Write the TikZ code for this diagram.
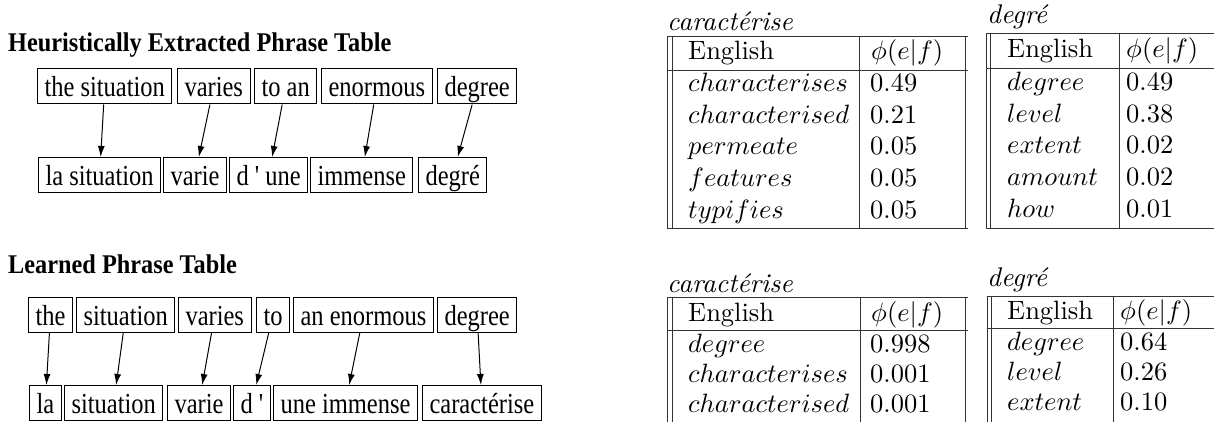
\documentclass[tikz,border=0pt]{standalone}
\usepackage[no-math]{fontspec}
\usepackage{graphicx}
\newfontfamily\tnr{Liberation Serif}
\usetikzlibrary{arrows.meta}
\newcommand\lfnt{\tnr\fontsize{29}{34}\selectfont}
\newcommand\hfnt{\tnr\bfseries\fontsize{27}{32}\selectfont}
\newcommand\boxtxt[1]{\scalebox{0.845}[1]{#1}}
\newcommand\ttltxt[1]{\scalebox{0.9}[1]{#1}}
\newcommand\mi[1]{\scalebox{2.65}{\fontsize{10}{12}\selectfont$#1$}}
\newcommand\mt[1]{\scalebox{2.65}{\fontsize{10}{12}\selectfont #1}}
\newcommand\itx[1]{\scalebox{2.7}{\fontsize{10}{12}\selectfont\itshape #1}}
\begin{document}
\begin{tikzpicture}[x=1pt,y=-1pt,
  wbox/.style={draw, line width=1pt, anchor=west, inner xsep=7pt, inner ysep=2pt,
    text height=26pt, text depth=5pt, font=\lfnt},
  ttl/.style={anchor=base west, inner sep=0pt, font=\hfnt},
  link/.style={-{Latex[length=11pt,width=7pt]}, line width=1pt},
  tline/.style={line width=0.9pt, black!80},
  tcell/.style={anchor=base west, inner sep=0pt}]
\useasboundingbox (0,0) rectangle (1214,422);

% ---------- Heuristically extracted ----------
\node[ttl] (h1) at (8,52) {\ttltxt{Heuristically Extracted Phrase Table}};
\node[wbox] (a1) at (37,86.5)  {\boxtxt{the situation}};
\node[wbox] (a2) at (177,86.5) {\boxtxt{varies}};
\node[wbox] (a3) at (254,86.5) {\boxtxt{to an}};
\node[wbox] (a4) at (321,86.5) {\boxtxt{enormous}};
\node[wbox] (a5) at (437,86.5) {\boxtxt{degree}};
\node[wbox] (b1) at (38,175)  {\boxtxt{la situation}};
\node[wbox] (b2) at (163,175) {\boxtxt{varie}};
\node[wbox] (b3) at (229,175) {\boxtxt{d ' une}};
\node[wbox] (b4) at (310,175) {\boxtxt{immense}};
\node[wbox] (b5) at (418,175) {\boxtxt{degré}};
\foreach \i in {1,...,5} {\draw[link] (a\i) -- (b\i);}

% ---------- Learned ----------
\node[ttl] (h2) at (8,273) {\ttltxt{Learned Phrase Table}};
\node[wbox] (c1) at (28,315)  {\boxtxt{the}};
\node[wbox] (c2) at (76,315)  {\boxtxt{situation}};
\node[wbox] (c3) at (178,315) {\boxtxt{varies}};
\node[wbox] (c4) at (256,315) {\boxtxt{to}};
\node[wbox] (c5) at (293,315) {\boxtxt{an enormous}};
\node[wbox] (c6) at (437,315) {\boxtxt{degree}};
\node[wbox] (d1) at (29,403)  {\boxtxt{la}};
\node[wbox] (d2) at (64,403)  {\boxtxt{situation}};
\node[wbox] (d3) at (167,403) {\boxtxt{varie}};
\node[wbox] (d4) at (233,403) {\boxtxt{d '}};
\node[wbox] (d5) at (273,403) {\boxtxt{une immense}};
\node[wbox] (d6) at (422,403) {\boxtxt{caractérise}};
\foreach \i in {1,...,6} {\draw[link] (c\i) -- (d\i);}

% ---------- Table: caracterise (heuristic) ----------
\draw[tline] (667,36) -- (968,36) (667,70) -- (968,70) (667,228) -- (968,228);
\draw[tline] (667,36) -- (667,228) (672,36) -- (672,228) (859,36) -- (859,228) (965,36) -- (965,228);
\node[tcell] (t1t) at (667,31) {\itx{caractérise}};
\node[tcell] (t1h1) at (688,60) {\mt{English}};
\node[tcell] (t1h2) at (871,60) {\mi{\phi(e|f)}};
\foreach \w/\p [count=\i] in {characterises/0.49, characterised/0.21, permeate/0.05, features/0.05, typifies/0.05} {
  \node[tcell] (t1e\i) at (688,{92+31.5*(\i-1)}) {\mi{\w}};
  \node[tcell] (t1p\i) at (870,{92+31.5*(\i-1)}) {\mt{\p}};
}

% ---------- Table: degre (heuristic) ----------
\draw[tline] (986,33) -- (1214,33) (986,68) -- (1214,68) (986,228) -- (1214,228);
\draw[tline] (986,33) -- (986,228) (990,33) -- (990,228) (1119,33) -- (1119,228);
\node[tcell] (t2t) at (987,24) {\itx{degré}};
\node[tcell] (t2h1) at (1007,58) {\mt{English}};
\node[tcell] (t2h2) at (1126,58) {\mi{\phi(e|f)}};
\foreach \w/\p [count=\i] in {degree/0.49, level/0.38, extent/0.02, amount/0.02, how/0.01} {
  \node[tcell] (t2e\i) at (1007,{91+31.5*(\i-1)}) {\mi{\w}};
  \node[tcell] (t2p\i) at (1126,{91+31.5*(\i-1)}) {\mt{\p}};
}

% ---------- Table: caracterise (learned) ----------
\draw[tline] (667,297) -- (968,297) (667,330) -- (968,330);
\draw[tline] (667,297) -- (667,422) (672,297) -- (672,422) (860,297) -- (860,422) (965,297) -- (965,422);
\node[tcell] (t3t) at (667,292) {\itx{caractérise}};
\node[tcell] (t3h1) at (688,321) {\mt{English}};
\node[tcell] (t3h2) at (871,321) {\mi{\phi(e|f)}};
\foreach \w/\p [count=\i] in {degree/0.998, characterises/0.001, characterised/0.001} {
  \node[tcell] (t3e\i) at (688,{352+30*(\i-1)}) {\mi{\w}};
  \node[tcell] (t3p\i) at (870,{352+30*(\i-1)}) {\mt{\p}};
}

% ---------- Table: degre (learned) ----------
\draw[tline] (987,296) -- (1214,296) (987,328) -- (1214,328);
\draw[tline] (987,296) -- (987,422) (991,296) -- (991,422) (1113,296) -- (1113,422);
\node[tcell] (t4t) at (987,286) {\itx{degré}};
\node[tcell] (t4h1) at (1007,319) {\mt{English}};
\node[tcell] (t4h2) at (1120,319) {\mi{\phi(e|f)}};
\foreach \w/\p [count=\i] in {degree/0.64, level/0.26, extent/0.10} {
  \node[tcell] (t4e\i) at (1007,{350+30*(\i-1)}) {\mi{\w}};
  \node[tcell] (t4p\i) at (1120,{350+30*(\i-1)}) {\mt{\p}};
}
\end{tikzpicture}
\end{document}
